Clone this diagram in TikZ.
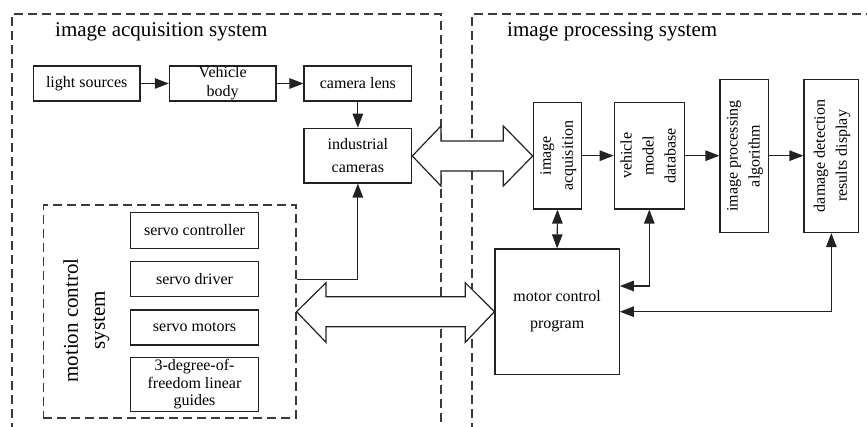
\documentclass[tikz,border=0pt]{standalone}
\usepackage{fontspec}
\setmainfont{Liberation Serif}
\usepackage{graphicx}
\usetikzlibrary{arrows.meta}

\definecolor{ink}{HTML}{222222}
\definecolor{dashink}{HTML}{3A3A3A}

% vertical (rotated) multi-line text for the tall boxes
\newcommand{\vlabel}[1]{\rotatebox{90}{\begin{tabular}{@{}c@{}}#1\end{tabular}}}

\begin{document}
\begin{tikzpicture}[x=1pt,y=-1pt,
  lw/.style={line width=1.2pt, draw=ink},
  blockbox/.style={lw, rectangle, inner sep=0pt, align=center,
    font=\fontsize{16}{19}\selectfont},
  groupframe/.style={line width=1.2pt, draw=dashink, dash pattern=on 9pt off 5pt},
  titletext/.style={inner sep=0pt, font=\fontsize{21}{27}\selectfont},
  arr/.style={lw, -{Triangle[length=14pt,width=10.5pt]}},
  biarr/.style={lw, {Triangle[length=14pt,width=10.5pt]}-{Triangle[length=14pt,width=10.5pt]}},
  bigarrow/.style={lw, fill=white, line join=miter}
]
\useasboundingbox (0,0) rectangle (867,427);

% ---- system frames (open towards the page edges) ----
\draw[groupframe] (12,432) -- (12,14) -- (441,14) -- (441,432);
\draw[groupframe] (472,432) -- (472,14) -- (872,14);

\node[titletext, anchor=base west] (acqtitle) at (55,36.5) {image acquisition system};
\node[titletext, anchor=base west] (proctitle) at (507,36.5) {image processing system};

% ---- image acquisition chain ----
\node[blockbox, minimum width=106.7pt, minimum height=35pt] (light) at (86.7,83.5) {light sources};
\node[blockbox, minimum width=106.7pt, minimum height=35pt] (veh) at (222.7,83.5) {Vehicle\\body};
\node[blockbox, minimum width=107.7pt, minimum height=35pt] (lens) at (357.85,83.5) {camera lens};
\node[blockbox, minimum width=107.7pt, minimum height=54.7pt,
      font=\fontsize{16}{23.5}\selectfont] (cams) at (357.85,155.65) {industrial\\cameras};

\draw[arr] (light) -- (veh);
\draw[arr] (veh) -- (lens);
\draw[arr] (lens) -- (cams);

% ---- motion control system ----
\node[groupframe, rectangle, inner sep=0pt, minimum width=252.7pt, minimum height=213pt]
  (motion) at (169.65,311.5) {};
\node[inner sep=0pt, font=\fontsize{21}{27}\selectfont] (motiontitle) at (86,320.5)
  {\vlabel{motion control\\system}};

\node[blockbox, minimum width=127.6pt, minimum height=35.6pt] (sctrl) at (194.5,230.5) {servo controller};
\node[blockbox, minimum width=127.6pt, minimum height=35pt] (sdrv) at (194.5,279.2) {servo driver};
\node[blockbox, minimum width=127.6pt, minimum height=35pt] (smot) at (194.5,327.5) {servo motors};
\node[blockbox, minimum width=127.6pt, minimum height=54.4pt,
      font=\fontsize{16}{17.5}\selectfont] (guides) at (194.5,384.5) {3-degree-of-\\freedom linear\\guides};

% ---- image processing system ----
\node[blockbox, minimum width=48.4pt, minimum height=106.7pt, font=\fontsize{16}{22}\selectfont]
  (acq) at (557.5,155.65) {\vlabel{image\\acquisition}};
\node[blockbox, minimum width=70pt, minimum height=106.7pt, font=\fontsize{16}{22}\selectfont]
  (db) at (649.3,155.65) {\vlabel{vehicle\\model\\database}};
\node[blockbox, minimum width=48.3pt, minimum height=153.2pt, font=\fontsize{16}{22}\selectfont]
  (alg) at (744.15,155.9) {\vlabel{image processing\\algorithm}};
\node[blockbox, minimum width=54.7pt, minimum height=153.2pt, font=\fontsize{16}{22}\selectfont]
  (dmg) at (831.35,155.9) {\vlabel{damage detection\\results display}};
\node[blockbox, minimum width=124.3pt, minimum height=125.3pt, font=\fontsize{16}{27}\selectfont]
  (mcp) at (557.15,311.65) {motor control\\program};

\draw[arr] (acq.east |- 0,155.7) -- (db.west |- 0,155.7);
\draw[arr] (db.east |- 0,155.7) -- (alg.west |- 0,155.7);
\draw[arr] (alg.east |- 0,155.7) -- (dmg.west |- 0,155.7);

\draw[biarr] (acq.south) -- (mcp.north);
\draw[biarr] (mcp.east |- 0,286) -| (db.south);
\draw[biarr] (mcp.east |- 0,311.7) -| (dmg.south);

% ---- motion control feedback to the cameras ----
\draw[arr] (motion.east |- 0,279.3) -| (cams.south);

% ---- wide data-link arrows ----
\draw[bigarrow] (cams.east |- 0,156) -- (441,126) -- (441,141) -- (503.3,141) -- (503.3,126)
  -- (acq.west |- 0,156) -- (503.3,186) -- (503.3,171) -- (441,171) -- (441,186) -- cycle;
\draw[bigarrow] (motion.east |- 0,311.7) -- (326,282.7) -- (326,296.7) -- (465.3,296.7) -- (465.3,282.7)
  -- (mcp.west |- 0,311.7) -- (465.3,342.3) -- (465.3,326.7) -- (326,326.7) -- (326,342.3) -- cycle;

\end{tikzpicture}
\end{document}
